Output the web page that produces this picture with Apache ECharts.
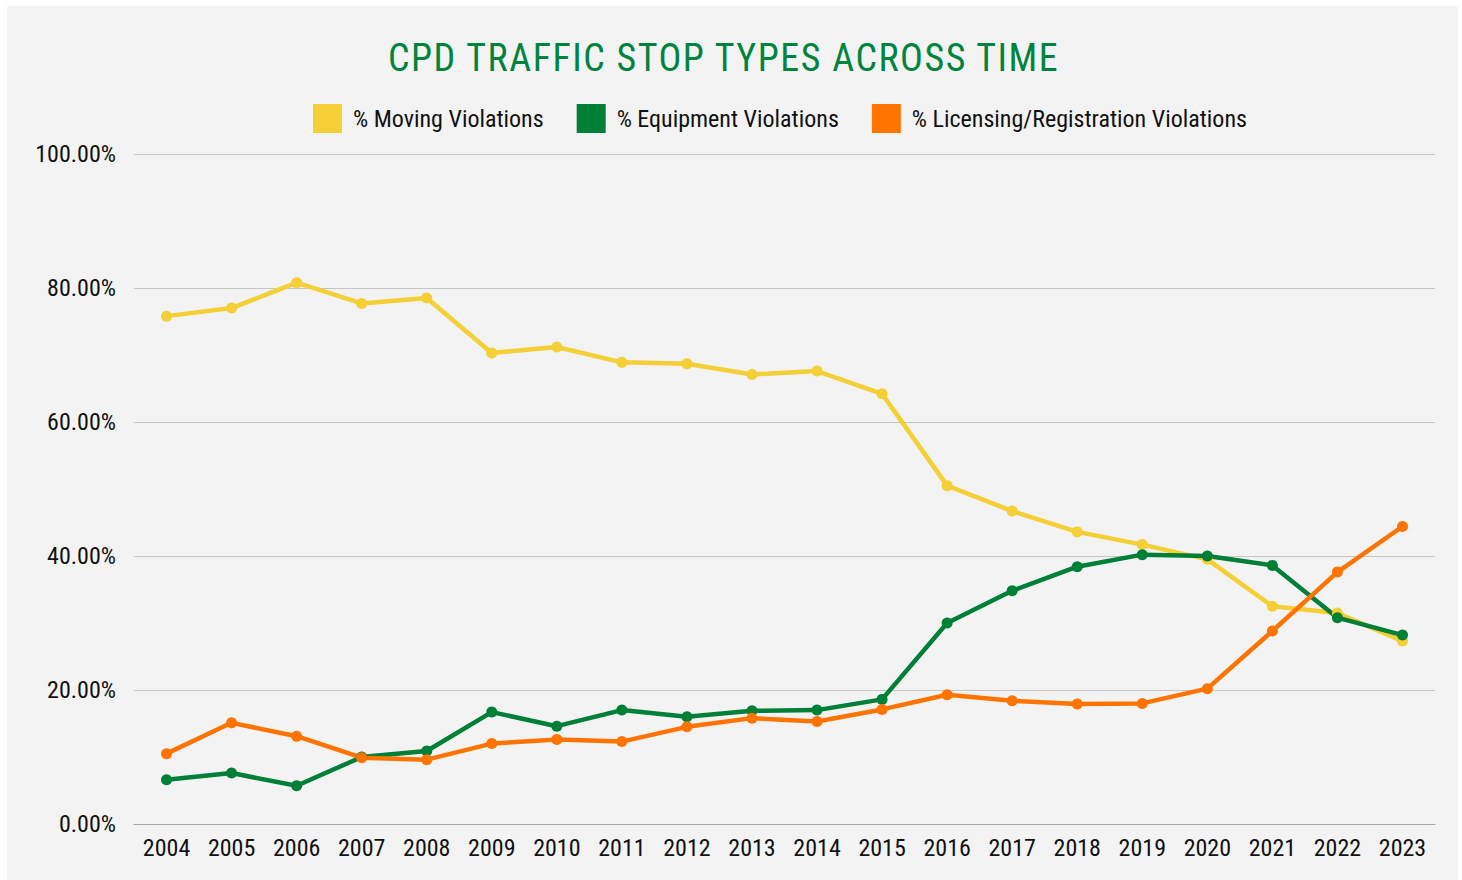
<!DOCTYPE html>
<html>
<head>
<meta charset="utf-8">
<script src="https://cdn.jsdelivr.net/npm/echarts@6/dist/echarts.min.js"></script>
<style>
  html, body { margin: 0; padding: 0; background: #fff; }
  #chart { position: absolute; left: 7px; top: 6px; width: 1451px; height: 874px; background: #f3f3f3; }
  /* spaced-out title letters, as in the original */
  #chart svg text[fill="#00843d"] { letter-spacing: 1.5px; }
</style>
</head>
<body>
<div id="chart"></div>
<script>
// years on the x axis
var years = ['2004', '2005', '2006', '2007', '2008', '2009', '2010', '2011', '2012', '2013',
  '2014', '2015', '2016', '2017', '2018', '2019', '2020', '2021', '2022', '2023'];

// share of stops, in percent
var movingViolations = [75.8, 77.0, 80.8, 77.7, 78.5, 70.3, 71.2, 68.9, 68.7, 67.1,
  67.6, 64.2, 50.5, 46.7, 43.6, 41.7, 39.5, 32.5, 31.5, 27.3];
var equipmentViolations = [6.6, 7.6, 5.7, 10.0, 10.9, 16.7, 14.6, 17.0, 16.0, 16.9,
  17.0, 18.6, 30.0, 34.8, 38.4, 40.2, 40.0, 38.6, 30.8, 28.2];
var licensingViolations = [10.5, 15.1, 13.1, 9.9, 9.6, 12.0, 12.6, 12.3, 14.5, 15.8,
  15.3, 17.1, 19.3, 18.4, 17.9, 18.0, 20.2, 28.8, 37.6, 44.4];

var chart = echarts.init(document.getElementById('chart'), null, { renderer: 'svg' });

function lineSeries (name, data, color) {
  return {
    name: name,
    type: 'line',
    data: data,
    symbol: 'circle',
    symbolSize: 11,
    lineStyle: { width: 4.5, color: color },
    itemStyle: { color: color },
    emphasis: { disabled: true }
  };
}

var option = {
  animation: false,
  textStyle: { fontFamily: 'Roboto Condensed, Roboto, sans-serif' },
  title: {
    text: 'CPD TRAFFIC STOP TYPES ACROSS TIME',
    left: 376,
    textAlign: 'left',
    top: 28,
    padding: 5,
    textStyle: {
      color: '#00843d',
      fontSize: 38,
      fontWeight: 'normal',
      fontFamily: 'Roboto Condensed, Roboto, sans-serif'
    }
  },
  legend: {
    top: 93,
    left: 301,
    icon: 'rect',
    itemWidth: 29,
    itemHeight: 29,
    itemGap: 33,
    textStyle: { fontSize: 24, color: '#111', padding: [0, 0, 0, 6] },
    data: ['% Moving Violations', '% Equipment Violations', '% Licensing/Registration Violations']
  },
  grid: {
    left: 127,
    right: 23,
    top: 148,
    bottom: 56,
    containLabel: false
  },
  xAxis: {
    type: 'category',
    data: years,
    boundaryGap: true,
    axisTick: { show: false },
    axisLine: { lineStyle: { color: '#a8a8a8', width: 1 } },
    axisLabel: { fontSize: 24, color: '#111', margin: 12 }
  },
  yAxis: {
    type: 'value',
    min: 0,
    max: 100,
    interval: 20,
    axisLine: { show: false },
    axisTick: { show: false },
    splitLine: { lineStyle: { color: '#c6c6c6', width: 1 } },
    axisLabel: {
      fontSize: 24,
      color: '#111',
      margin: 18,
      formatter: function (v) { return v.toFixed(2) + '%'; }
    }
  },
  series: [
    lineSeries('% Moving Violations', movingViolations, '#f4cf35'),
    lineSeries('% Equipment Violations', equipmentViolations, '#007f37'),
    lineSeries('% Licensing/Registration Violations', licensingViolations, '#ff7400')
  ]
};

chart.setOption(option);
</script>
</body>
</html>
